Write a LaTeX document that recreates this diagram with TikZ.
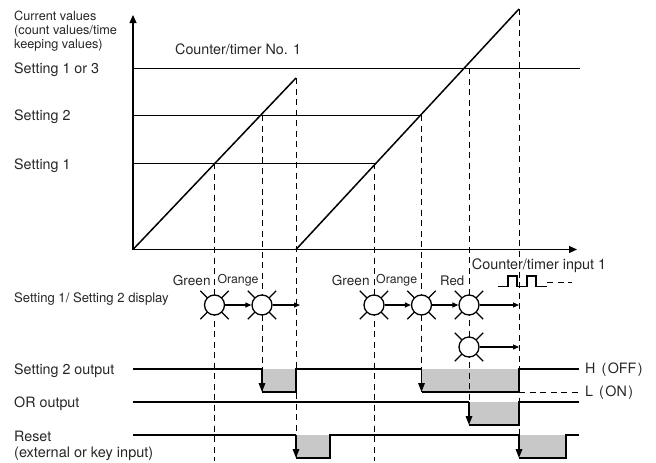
\documentclass[tikz,border=0pt]{standalone}
\usepackage{fontspec}
\setmainfont{TeX Gyre Heros}
\usetikzlibrary{arrows.meta}
\definecolor{lvl}{HTML}{C8C8C8}
\tikzset{
 x=1pt,y=-1pt,
 lbl/.style={anchor=west,inner sep=0pt,font=\fontsize{14.3}{15}\selectfont,text=black!85},
 lblnarrow/.style={lbl,font=\fontsize{12.3}{15}\selectfont},
 axis/.style={line width=1.2pt,-{Triangle[length=8pt,width=7pt]}},
 thin line/.style={line width=.9pt},
 ramp/.style={line width=1.5pt},
 drop/.style={line width=1pt,dash pattern=on 6pt off 4.5pt},
 wave/.style={line width=1.6pt},
 led/.style={circle,draw,fill=white,line width=1.3pt,minimum size=20pt,inner sep=0pt},
 flow/.style={line width=1.2pt,-{Triangle[length=6pt,width=5pt]}},
 downarr/.style={line width=1.6pt,-{Triangle[length=9pt,width=6.5pt]}},
}
\newcommand{\ledrays}[1]{\foreach \a in {45,135,225,315}{\draw[line width=1.3pt] (#1)++(\a:9pt) -- ++(\a:11pt);}}
\begin{document}
\begin{tikzpicture}
\useasboundingbox (0,0) rectangle (656,463);
% grey areas
\fill[lvl] (262,369) rectangle (296,392);
\fill[lvl] (421.5,369) rectangle (519,392);
\fill[lvl] (469,402) rectangle (519,425);
\fill[lvl] (296,435) rectangle (330,458);
\fill[lvl] (519,435) rectangle (566,458);
% dashed drops
\coordinate (d1) at (214.5,163); \coordinate (e1) at (214.5,461);
\coordinate (d2) at (262,115); \coordinate (e2) at (262,392);
\coordinate (d3) at (296,78); \coordinate (e3) at (296,458);
\coordinate (d4) at (374,163); \coordinate (e4) at (374,461);
\coordinate (d5) at (421.5,115); \coordinate (e5) at (421.5,392);
\coordinate (d6) at (469,68); \coordinate (e6) at (469,425);
\coordinate (d7) at (519,9); \coordinate (e7) at (519,458);
\foreach \i in {1,...,7}{\draw[drop] (d\i) -- (e\i);}
% axes
\coordinate (o) at (133,249.5);
\coordinate (yt) at (133,15);
\coordinate (xt) at (577,249.5);
\draw[axis] (o) -- (yt);
\draw[axis] (o) -- (xt);
% setting lines
\draw[thin line] (133,68) -- (580,68);
\draw[thin line] (133,115) -- (421.5,115);
\draw[thin line] (133,163) -- (374,163);
% ramps
\draw[ramp] (o) -- (d3);
\draw[ramp] (296,249.5) -- (d7);
% waves
\draw[wave] (133,369) -- (262,369);
\draw[wave] (262,392) -- (296,392) -- (296,369) -- (421.5,369);
\draw[downarr] (262,369) -- (262,392);
\draw[wave] (421.5,392) -- (519,392) -- (519,369) -- (579,369);
\draw[downarr] (421.5,369) -- (421.5,392);
\draw[drop] (519,392) -- (579,392);
\draw[wave] (133,402) -- (469,402);
\draw[downarr] (469,402) -- (469,425);
\draw[wave] (469,425) -- (519,425) -- (519,402) -- (579,402);
\draw[wave] (133,435) -- (296,435);
\draw[downarr] (296,435) -- (296,458);
\draw[wave] (296,458) -- (330,458) -- (330,435) -- (519,435);
\draw[downarr] (519,435) -- (519,458);
\draw[wave] (519,458) -- (566,458) -- (566,435) -- (579,435);
% pulse
\draw[line width=1.4pt] (498,286.5) -- (508,286.5) -- (508,276) -- (517,276) -- (517,286.5) -- (527,286.5) -- (527,276) -- (536,276) -- (536,286.5) -- (547,286.5);
\draw[drop] (547,282) -- (572,282);
% LEDs
\ledrays{214.5,305}\ledrays{262,305}\ledrays{374,305}\ledrays{421.5,305}\ledrays{469,305}\ledrays{469,347}
\node[led] (l1) at (214.5,305) {};
\node[led] (l2) at (262,305) {};
\node[led] (l3) at (374,305) {};
\node[led] (l4) at (421.5,305) {};
\node[led] (l5) at (469,305) {};
\node[led] (l6) at (469,347) {};
\coordinate (f1) at (300,305);
\coordinate (f2) at (519,305);
\coordinate (f3) at (519,347);
\draw[flow] (l1) -- (l2);
\draw[flow] (l2) -- (f1);
\draw[flow] (l3) -- (l4);
\draw[flow] (l4) -- (l5);
\draw[flow] (l5) -- (f2);
\draw[flow] (l6) -- (f3);
% labels
\node[lbl,anchor=north west,align=left,font=\fontsize{12.7}{14}\selectfont] (t0) at (14,11) {Current values\\(count values/time\\keeping values)};
\node[lbl] (t1) at (175,49.5) {Counter/timer No. 1};
\node[lbl] (t2) at (14,69.5) {Setting 1 or 3};
\node[lbl] (t3) at (14,116.5) {Setting 2};
\node[lbl] (t4) at (14,166) {Setting 1};
\node[lblnarrow,font=\fontsize{13.6}{15}\selectfont] (t5) at (172.7,280.5) {Green};
\node[lblnarrow] (t6) at (217.3,280.5) {Orange};
\node[lblnarrow,font=\fontsize{13.6}{15}\selectfont] (t7) at (331.7,280.5) {Green};
\node[lblnarrow] (t8) at (376,280.5) {Orange};
\node[lblnarrow,font=\fontsize{13.2}{15}\selectfont] (t9) at (440,280.5) {Red};
\node[lbl,font=\fontsize{14.4}{15}\selectfont] (t10) at (471.7,265.5) {Counter/timer input 1};
\node[lbl,font=\fontsize{13.1}{14}\selectfont] (t11) at (14,299.5) {Setting 1/ Setting 2 display};
\node[lbl] (t12) at (14,370.5) {Setting 2 output};
\node[lbl] (t13) at (14,403.5) {OR output};
\node[lbl] (t14) at (14,436) {Reset};
\node[lbl,font=\fontsize{14.5}{15}\selectfont] (t15) at (14,453.5) {(external or key input)};
\node[lbl] (t16) at (585,369.5) {H\hspace{6pt}(\hspace{1.5pt}OFF\hspace{1.5pt})};
\node[lbl] (t17) at (585,392.5) {L\hspace{6pt}(\hspace{1.5pt}ON\hspace{1.5pt})};
\end{tikzpicture}
\end{document}
